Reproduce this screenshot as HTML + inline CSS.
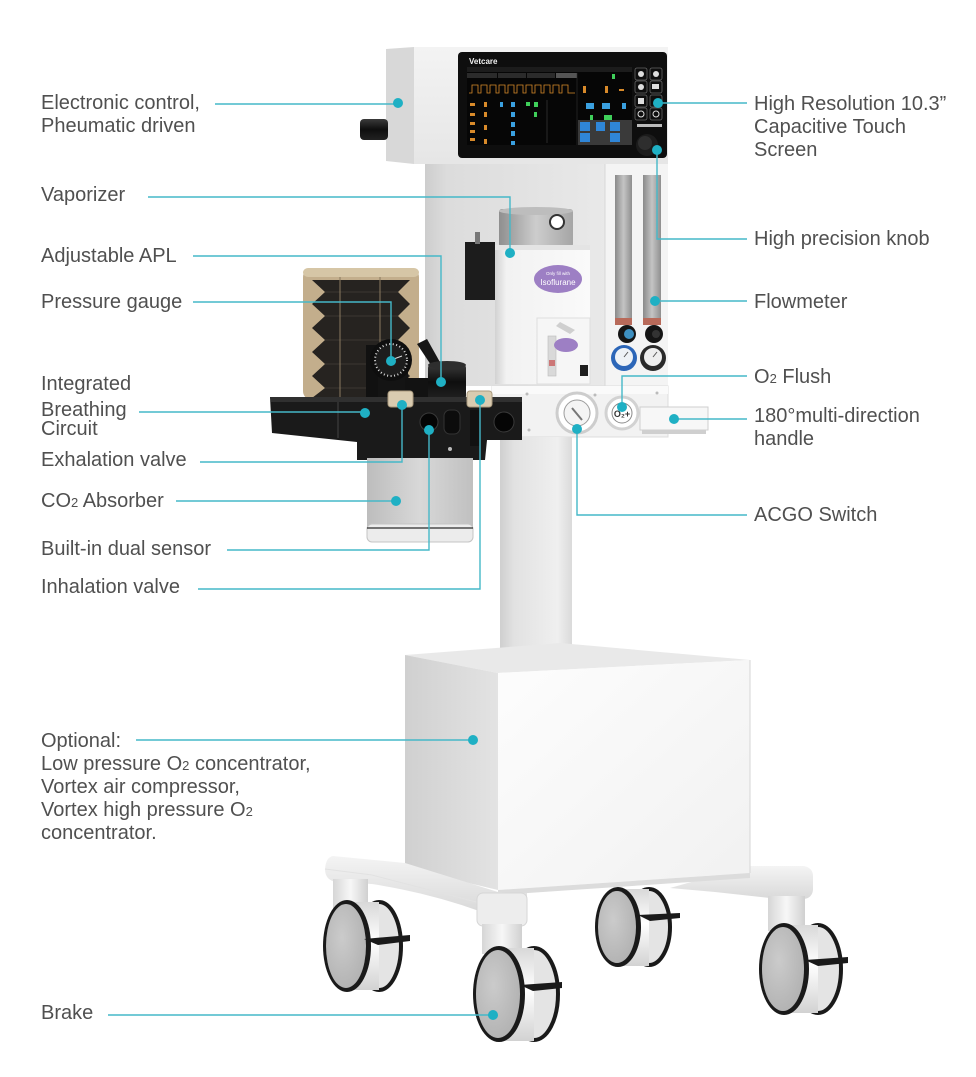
<!DOCTYPE html>
<html><head><meta charset="utf-8"><style>
html,body{margin:0;padding:0;background:#fff;}
svg{display:block;}
.t{font-family:"Liberation Sans",Arial,sans-serif;font-size:20px;fill:#505050;}
.s{font-size:13px;}
.ln{fill:none;stroke:#45b8c8;stroke-width:1.4;}
.dt{fill:#1fb0c4;}
</style></head><body>
<svg width="976" height="1077" viewBox="0 0 976 1077" xmlns="http://www.w3.org/2000/svg">
<defs>
<linearGradient id="gLeftFace" x1="0" x2="1" y1="0" y2="0"><stop offset="0" stop-color="#d0d0d0"/><stop offset="1" stop-color="#e3e3e3"/></linearGradient>
<linearGradient id="gFront" x1="0" x2="1" y1="0" y2="1"><stop offset="0" stop-color="#fdfdfd"/><stop offset="1" stop-color="#f1f1f1"/></linearGradient>
<linearGradient id="gPole" x1="0" x2="1"><stop offset="0" stop-color="#cfcfcf"/><stop offset="0.2" stop-color="#e2e2e2"/><stop offset="0.8" stop-color="#efefef"/><stop offset="1" stop-color="#dadada"/></linearGradient>
<linearGradient id="gCol" x1="0" x2="1"><stop offset="0" stop-color="#cdcdcd"/><stop offset="0.12" stop-color="#dcdcdc"/><stop offset="1" stop-color="#e9e9e9"/></linearGradient>
<linearGradient id="gDrum" x1="0" x2="1"><stop offset="0" stop-color="#8f8f8f"/><stop offset="0.5" stop-color="#cdcdcd"/><stop offset="1" stop-color="#a5a5a5"/></linearGradient>
<linearGradient id="gVap" x1="0" x2="1"><stop offset="0" stop-color="#d2d2d2"/><stop offset="0.12" stop-color="#f2f2f2"/><stop offset="1" stop-color="#fafafa"/></linearGradient>
<linearGradient id="gHousing" x1="0" x2="0" y1="0" y2="1"><stop offset="0" stop-color="#f3f3f3"/><stop offset="1" stop-color="#e6e6e6"/></linearGradient>
<linearGradient id="gBlack" x1="0" x2="0" y1="0" y2="1"><stop offset="0" stop-color="#3a3a3a"/><stop offset="0.5" stop-color="#0e0e0e"/><stop offset="1" stop-color="#222"/></linearGradient>
<linearGradient id="gTube" x1="0" x2="1"><stop offset="0" stop-color="#8a8a8a"/><stop offset="0.5" stop-color="#c4c4c4"/><stop offset="1" stop-color="#8f8f8f"/></linearGradient>
<linearGradient id="gWheelBody" x1="0" x2="0" y1="0" y2="1"><stop offset="0" stop-color="#d8d8d8"/><stop offset="0.45" stop-color="#ffffff"/><stop offset="1" stop-color="#d2d2d2"/></linearGradient>
<radialGradient id="gFace" cx="0.4" cy="0.4" r="0.7"><stop offset="0" stop-color="#cbcbcb"/><stop offset="1" stop-color="#b0b0b0"/></radialGradient>
<linearGradient id="gStem" x1="0" x2="1"><stop offset="0" stop-color="#d6d6d6"/><stop offset="0.5" stop-color="#f7f7f7"/><stop offset="1" stop-color="#d0d0d0"/></linearGradient>
<linearGradient id="gLeg" x1="0" x2="0" y1="0" y2="1"><stop offset="0" stop-color="#f4f4f4"/><stop offset="1" stop-color="#d9d9d9"/></linearGradient>
<linearGradient id="gCanister" x1="0" x2="1"><stop offset="0" stop-color="#bdbdbd"/><stop offset="0.5" stop-color="#d8d8d8"/><stop offset="1" stop-color="#c0c0c0"/></linearGradient>
</defs>

<!-- ============ MONITOR ============ -->
<polygon points="386,49 414,47 414,164 386,161" fill="#d8d8d8"/>
<rect x="414" y="47" width="254" height="117" fill="url(#gHousing)"/>
<rect x="360" y="119" width="28" height="21" rx="4" fill="url(#gBlack)"/>
<rect x="458" y="52" width="209" height="106" rx="4" fill="#0e0e0e"/>
<rect x="467" y="67" width="165" height="78" fill="#060606"/>
<text x="469" y="64" font-family="Liberation Sans,sans-serif" font-size="8" font-weight="bold" fill="#f2f2f2">Vetcare</text>
<rect x="467" y="67" width="165" height="5" fill="#1c1c1c"/>
<rect x="467" y="73" width="30" height="5" fill="#2b2b2b"/><rect x="498" y="73" width="28" height="5" fill="#2b2b2b"/><rect x="527" y="73" width="28" height="5" fill="#2b2b2b"/><rect x="556" y="73" width="21" height="5" fill="#555"/>
<polyline points="469,93 472,93 472,85 478,85 478,93 481,93 481,85 487,85 487,93 490,93 490,85 496,85 496,93 499,93 499,85 505,85 505,93 508,93 508,85 514,85 514,93 517,93 517,85 523,85 523,93 526,93 526,85 532,85 532,93 535,93 535,85 541,85 541,93 544,93 544,85 550,85 550,93 553,93 553,85 559,85 559,93 562,93 562,85 568,85 568,93 575,93" fill="none" stroke="#d88a2a" stroke-width="0.8"/>
<g fill="#d88a2a"><rect x="470" y="103" width="5" height="3"/><rect x="470" y="113" width="5" height="3"/><rect x="470" y="122" width="5" height="3"/><rect x="470" y="130" width="5" height="3"/><rect x="470" y="138" width="5" height="3"/><rect x="484" y="102" width="3" height="5"/><rect x="484" y="112" width="3" height="5"/><rect x="484" y="125" width="3" height="5"/><rect x="484" y="139" width="3" height="5"/><rect x="583" y="86" width="3" height="7"/><rect x="605" y="86" width="3" height="7"/><rect x="619" y="89" width="5" height="2"/></g>
<g fill="#3aa0e0"><rect x="500" y="102" width="3" height="5"/><rect x="511" y="102" width="4" height="5"/><rect x="511" y="112" width="4" height="5"/><rect x="511" y="122" width="4" height="5"/><rect x="511" y="131" width="4" height="5"/><rect x="511" y="141" width="4" height="4"/><rect x="586" y="103" width="8" height="6"/><rect x="602" y="103" width="8" height="6"/><rect x="622" y="103" width="4" height="6"/></g>
<g fill="#3fcf5a"><rect x="526" y="102" width="4" height="4"/><rect x="534" y="102" width="4" height="5"/><rect x="534" y="112" width="3" height="5"/><rect x="590" y="115" width="3" height="6"/><rect x="604" y="115" width="8" height="6"/><rect x="612" y="74" width="3" height="5"/></g>
<line x1="547" y1="100" x2="547" y2="143" stroke="#444" stroke-width="0.6"/>
<line x1="577" y1="73" x2="577" y2="145" stroke="#333" stroke-width="0.6"/>
<rect x="578" y="120" width="54" height="25" fill="#3a3a3a"/>
<g fill="#2f86d8"><rect x="580" y="122" width="10" height="9"/><rect x="596" y="122" width="9" height="9"/><rect x="610" y="122" width="10" height="9"/><rect x="580" y="133" width="10" height="9"/><rect x="610" y="133" width="10" height="9"/></g>
<g fill="none" stroke="#666" stroke-width="0.8"><rect x="635" y="68" width="12" height="12" rx="2"/><rect x="650" y="68" width="12" height="12" rx="2"/><rect x="635" y="81" width="12" height="12" rx="2"/><rect x="650" y="81" width="12" height="12" rx="2"/><rect x="635" y="95" width="12" height="12" rx="2"/><rect x="650" y="95" width="12" height="12" rx="2"/><rect x="635" y="108" width="12" height="12" rx="2"/><rect x="650" y="108" width="12" height="12" rx="2"/></g>
<g fill="#ddd"><circle cx="641" cy="74" r="3"/><circle cx="656" cy="74" r="3"/><circle cx="641" cy="87" r="3"/><rect x="652" y="84" width="7" height="5"/><rect x="638" y="98" width="6" height="6"/><circle cx="641" cy="114" r="3" fill="none" stroke="#ddd"/><circle cx="656" cy="114" r="3" fill="none" stroke="#ddd"/></g>
<rect x="637" y="124" width="25" height="3" fill="#bbb"/>
<circle cx="647" cy="145" r="11" fill="#1c1c1c"/><circle cx="645" cy="143" r="7" fill="#2e2e2e"/>

<!-- ============ COLUMN BODY ============ -->
<rect x="425" y="164" width="182" height="222" fill="url(#gCol)"/>
<rect x="605" y="164" width="63" height="222" fill="#f4f4f4"/>
<line x1="605" y1="164" x2="605" y2="386" stroke="#d8d8d8"/>
<rect x="615" y="175" width="17" height="150" fill="url(#gTube)"/>
<rect x="643" y="175" width="18" height="150" fill="url(#gTube)"/>
<rect x="615" y="318" width="17" height="7" fill="#b86a5a"/><rect x="643" y="318" width="18" height="7" fill="#b86a5a"/>
<circle cx="627" cy="334" r="9" fill="#151515"/><circle cx="629" cy="334" r="5" fill="#3d8fc0"/>
<circle cx="654" cy="334" r="9" fill="#151515"/><circle cx="656" cy="334" r="4" fill="#333"/>
<circle cx="624" cy="358" r="13" fill="#2c66b8"/><circle cx="624" cy="357" r="9" fill="#eef2f6"/>
<circle cx="653" cy="358" r="13" fill="#2a2a2a"/><circle cx="653" cy="357" r="9" fill="#eeeeee"/>
<line x1="624" y1="357" x2="628" y2="352" stroke="#555"/><line x1="653" y1="357" x2="657" y2="352" stroke="#555"/>

<!-- black block behind vaporizer -->
<rect x="465" y="242" width="30" height="58" fill="#1c1c1c"/>
<rect x="475" y="232" width="5" height="12" fill="#777"/>

<!-- Vaporizer -->
<rect x="499" y="209" width="74" height="38" rx="3" fill="url(#gDrum)"/>
<ellipse cx="536" cy="211" rx="37" ry="4" fill="#bdbdbd"/>
<circle cx="557" cy="222" r="7" fill="#fff" stroke="#333" stroke-width="2"/>
<rect x="495" y="245" width="95" height="139" fill="url(#gVap)"/>
<rect x="495" y="245" width="95" height="5" fill="#e4e4e4"/>
<ellipse cx="558" cy="279" rx="24" ry="14" fill="#9d7fc4"/>
<text x="558" y="275" text-anchor="middle" font-family="Liberation Sans,sans-serif" font-size="4.5" fill="#fff">Only fill with</text>
<text x="558" y="285" text-anchor="middle" font-family="Liberation Sans,sans-serif" font-size="8" fill="#fff">Isoflurane</text>
<rect x="537" y="318" width="53" height="66" fill="#f6f6f6" stroke="#dedede"/>
<path d="M560,322 L575,330 L570,334 L556,326 Z" fill="#cfcfcf"/>
<rect x="548" y="336" width="8" height="40" fill="#d9d9d9" stroke="#bbb" stroke-width="0.6"/>
<rect x="549" y="360" width="6" height="6" fill="#c77"/>
<ellipse cx="566" cy="345" rx="12" ry="7" fill="#9d7fc4"/>
<rect x="580" y="365" width="8" height="11" fill="#1e1e1e"/>

<!-- Shelf -->
<rect x="492" y="386" width="176" height="51" fill="#f2f2f2" stroke="#dcdcdc"/>
<rect x="492" y="386" width="176" height="8" fill="#fafafa"/>
<rect x="640" y="407" width="68" height="23" fill="#f7f7f7" stroke="#cfcfcf"/>
<rect x="642" y="430" width="64" height="4" fill="#cfcfcf"/>
<circle cx="577" cy="413" r="20" fill="#fff" stroke="#cdcdcd" stroke-width="3"/>
<circle cx="577" cy="413" r="13" fill="#f4f4f4" stroke="#9c9c9c"/>
<line x1="572" y1="408" x2="582" y2="420" stroke="#777" stroke-width="2"/>
<circle cx="622" cy="413" r="16" fill="#fff" stroke="#d2d2d2" stroke-width="3"/>
<circle cx="622" cy="413" r="10" fill="#fff" stroke="#8a8a8a"/>
<text x="622" y="417" text-anchor="middle" font-family="Liberation Sans,sans-serif" font-size="9" font-weight="bold" fill="#333">O₂+</text>
<g fill="#bbb"><circle cx="527" cy="394" r="1.5"/><circle cx="529" cy="430" r="1.5"/><circle cx="595" cy="395" r="1.5"/><circle cx="657" cy="393" r="1.5"/></g>

<!-- Pole -->
<rect x="500" y="437" width="72" height="222" fill="url(#gPole)"/>

<!-- ============ BREATHING CIRCUIT ============ -->
<rect x="303" y="268" width="116" height="132" rx="9" fill="#c3ae8c"/>
<path d="M312,280 L410,280 L398,292 L410,304 L398,316 L410,328 L398,340 L410,352 L398,364 L410,376 L398,388 L410,398 L312,398 L325,388 L312,376 L325,364 L312,352 L325,340 L312,328 L325,316 L312,304 L325,292 Z" fill="#262320"/>
<g stroke="#3c3732" stroke-width="1"><line x1="325" y1="292" x2="398" y2="292"/><line x1="325" y1="316" x2="398" y2="316"/><line x1="325" y1="340" x2="398" y2="340"/><line x1="325" y1="364" x2="398" y2="364"/><line x1="325" y1="388" x2="398" y2="388"/></g>
<line x1="340" y1="275" x2="340" y2="398" stroke="#8a7a60" stroke-width="1"/>
<line x1="380" y1="275" x2="380" y2="398" stroke="#8a7a60" stroke-width="1"/>
<rect x="303" y="268" width="116" height="9" rx="5" fill="#d6c6a6"/>
<!-- gauge stand and gauge -->
<rect x="366" y="345" width="12" height="55" fill="#111"/>
<rect x="378" y="370" width="30" height="28" fill="#141414"/>
<circle cx="391" cy="360" r="21" fill="#0e0e0e"/>
<circle cx="391" cy="360" r="16" fill="#1d1d1d" stroke="#dcdcdc" stroke-width="2" stroke-dasharray="1 2.5"/>
<line x1="391" y1="360" x2="402" y2="356" stroke="#ddd" stroke-width="1"/>
<!-- APL -->
<path d="M417,344 L427,339 L441,364 L433,368 Z" fill="#161616"/>
<rect x="405" y="378" width="30" height="22" fill="#121212"/>
<rect x="428" y="364" width="38" height="36" rx="4" fill="url(#gBlack)"/>
<ellipse cx="447" cy="365" rx="19" ry="4" fill="#2e2e2e"/>
<!-- Tray -->
<polygon points="270,397 522,397 522,440 487,440 485,460 357,460 357,442 272,433" fill="#1a1a1a"/>
<polygon points="270,397 522,397 522,402 271,402" fill="#303030"/>
<line x1="338" y1="402" x2="338" y2="438" stroke="#2f2f2f" stroke-width="2"/>
<rect x="388" y="391" width="25" height="16" rx="3" fill="#d9cbb0" stroke="#aa9a7e"/>
<rect x="467" y="391" width="25" height="16" rx="3" fill="#d9cbb0" stroke="#aa9a7e"/>
<circle cx="429" cy="422" r="9" fill="#050505" stroke="#3a3a3a"/>
<rect x="444" y="410" width="16" height="24" rx="6" fill="#0c0c0c" stroke="#333"/>
<circle cx="504" cy="422" r="10" fill="#050505" stroke="#3a3a3a"/>
<rect x="470" y="410" width="10" height="36" fill="#111"/>
<circle cx="450" cy="449" r="2" fill="#bbb"/>
<!-- CO2 absorber -->
<rect x="367" y="458" width="106" height="70" fill="url(#gCanister)"/>
<rect x="367" y="524" width="106" height="18" rx="5" fill="#ececec" stroke="#c4c4c4"/>
<line x1="367" y1="528" x2="473" y2="528" stroke="#2b2b2b" stroke-width="1.2"/>

<!-- ============ BASE ============ -->
<!-- back-center wheel -->
<ellipse cx="649" cy="927" rx="21" ry="38" fill="#e4e4e4" stroke="#1a1a1a" stroke-width="4"/>
<rect x="618" y="889" width="31" height="77" fill="url(#gWheelBody)"/>
<ellipse cx="618" cy="927" rx="23" ry="40" fill="#1a1a1a"/>
<ellipse cx="617" cy="927" rx="19" ry="36" fill="url(#gFace)"/>
<path d="M638,915 L680,913 L680,918 L650,921 Z" fill="#1a1a1a"/>
<!-- right leg -->
<path d="M670,888 L748,866 L804,866 Q813,868 813,876 L813,890 Q812,898 804,899 L770,898 L715,892 Z" fill="url(#gLeg)"/>
<!-- box -->
<polygon points="405,655 560,643 750,660 498,673" fill="#e9e9e9"/>
<polygon points="405,655 498,673 498,890 405,868" fill="url(#gLeftFace)"/>
<polygon points="498,673 750,660 750,873 498,890" fill="url(#gFront)"/>
<line x1="750" y1="660" x2="750" y2="873" stroke="#d6d6d6"/>
<polygon points="498,890 750,873 750,878 498,895" fill="#dcdcdc"/>
<!-- left leg -->
<path d="M333,856 L405,863 L498,892 L527,893 L527,912 L482,912 Q430,893 372,884 L336,882 Q325,880 325,869 Q326,857 333,856 Z" fill="url(#gLeg)"/>
<path d="M325,869 L372,875 L480,903 L527,903" fill="none" stroke="#e2e2e2"/>
<rect x="477" y="893" width="50" height="33" rx="6" fill="#ededed" stroke="#d6d6d6"/>
<!-- stems -->
<rect x="333" y="879" width="35" height="32" fill="url(#gStem)"/>
<rect x="482" y="924" width="40" height="30" fill="url(#gStem)"/>
<rect x="768" y="896" width="37" height="35" fill="url(#gStem)"/>
<!-- left wheel -->
<ellipse cx="379" cy="946" rx="22" ry="44" fill="#e4e4e4" stroke="#1a1a1a" stroke-width="4"/>
<rect x="347" y="902" width="32" height="88" fill="url(#gWheelBody)"/>
<ellipse cx="347" cy="946" rx="24" ry="46" fill="#1a1a1a"/>
<ellipse cx="346" cy="946" rx="20" ry="42" fill="url(#gFace)"/>
<path d="M364,939 L410,935 L410,941 L378,945 Z" fill="#1a1a1a"/>
<!-- front-center wheel -->
<ellipse cx="534" cy="994" rx="24" ry="46" fill="#e4e4e4" stroke="#1a1a1a" stroke-width="4"/>
<rect x="499" y="948" width="35" height="93" fill="url(#gWheelBody)"/>
<ellipse cx="499" cy="994" rx="26" ry="48" fill="#1a1a1a"/>
<ellipse cx="498" cy="994" rx="22" ry="44" fill="url(#gFace)"/>
<path d="M520,985 L562,982 L562,988 L533,991 Z" fill="#1a1a1a"/>
<!-- right wheel -->
<ellipse cx="818" cy="969" rx="23" ry="44" fill="#e4e4e4" stroke="#1a1a1a" stroke-width="4"/>
<rect x="784" y="925" width="34" height="88" fill="url(#gWheelBody)"/>
<ellipse cx="784" cy="969" rx="25" ry="46" fill="#1a1a1a"/>
<ellipse cx="783" cy="969" rx="21" ry="42" fill="url(#gFace)"/>
<path d="M805,960 L848,957 L848,963 L818,966 Z" fill="#1a1a1a"/>

<!-- ============ LEADER LINES ============ -->
<path class="ln" d="M215,104 H398"/>
<path class="ln" d="M148,197 H510 V253"/>
<path class="ln" d="M193,256 H441 V382"/>
<path class="ln" d="M193,302 H391 V361"/>
<path class="ln" d="M139,412 H365"/>
<path class="ln" d="M200,462 H402 V405"/>
<path class="ln" d="M176,501 H396"/>
<path class="ln" d="M227,550 H429 V430"/>
<path class="ln" d="M198,589 H480 V400"/>
<path class="ln" d="M136,740 H473"/>
<path class="ln" d="M108,1015 H493"/>
<path class="ln" d="M658,103 H747"/>
<path class="ln" d="M657,150 V239 H747"/>
<path class="ln" d="M655,301 H747"/>
<path class="ln" d="M622,407 V376 H747"/>
<path class="ln" d="M674,419 H747"/>
<path class="ln" d="M577,429 V515 H747"/>
<g class="dt">
<circle cx="398" cy="103" r="5"/><circle cx="510" cy="253" r="5"/><circle cx="441" cy="382" r="5"/><circle cx="391" cy="361" r="5"/><circle cx="365" cy="413" r="5"/><circle cx="402" cy="405" r="5"/><circle cx="396" cy="501" r="5"/><circle cx="429" cy="430" r="5"/><circle cx="480" cy="400" r="5"/><circle cx="473" cy="740" r="5"/><circle cx="493" cy="1015" r="5"/>
<circle cx="658" cy="103" r="5"/><circle cx="657" cy="150" r="5"/><circle cx="655" cy="301" r="5"/><circle cx="622" cy="407" r="5"/><circle cx="674" cy="419" r="5"/><circle cx="577" cy="429" r="5"/>
</g>

<!-- ============ LABELS ============ -->
<text class="t" x="41" y="109">Electronic control,</text>
<text class="t" x="41" y="132">Pheumatic driven</text>
<text class="t" x="41" y="201">Vaporizer</text>
<text class="t" x="41" y="262">Adjustable APL</text>
<text class="t" x="41" y="308">Pressure gauge</text>
<text class="t" x="41" y="390">Integrated</text>
<text class="t" x="41" y="416">Breathing</text>
<text class="t" x="41" y="435">Circuit</text>
<text class="t" x="41" y="466">Exhalation valve</text>
<text class="t" x="41" y="507">CO<tspan class="s">2</tspan> Absorber</text>
<text class="t" x="41" y="555">Built-in dual sensor</text>
<text class="t" x="41" y="593">Inhalation valve</text>
<text class="t" x="41" y="747">Optional:</text>
<text class="t" x="41" y="770">Low pressure O<tspan class="s">2</tspan> concentrator,</text>
<text class="t" x="41" y="793">Vortex air compressor,</text>
<text class="t" x="41" y="816">Vortex high pressure O<tspan class="s">2</tspan></text>
<text class="t" x="41" y="839">concentrator.</text>
<text class="t" x="41" y="1019">Brake</text>

<text class="t" x="754" y="110">High Resolution 10.3”</text>
<text class="t" x="754" y="133">Capacitive Touch</text>
<text class="t" x="754" y="156">Screen</text>
<text class="t" x="754" y="245">High precision knob</text>
<text class="t" x="754" y="308">Flowmeter</text>
<text class="t" x="754" y="383">O<tspan class="s">2</tspan> Flush</text>
<text class="t" x="754" y="422">180°multi-direction</text>
<text class="t" x="754" y="445">handle</text>
<text class="t" x="754" y="521">ACGO Switch</text>
</svg>
</body></html>
